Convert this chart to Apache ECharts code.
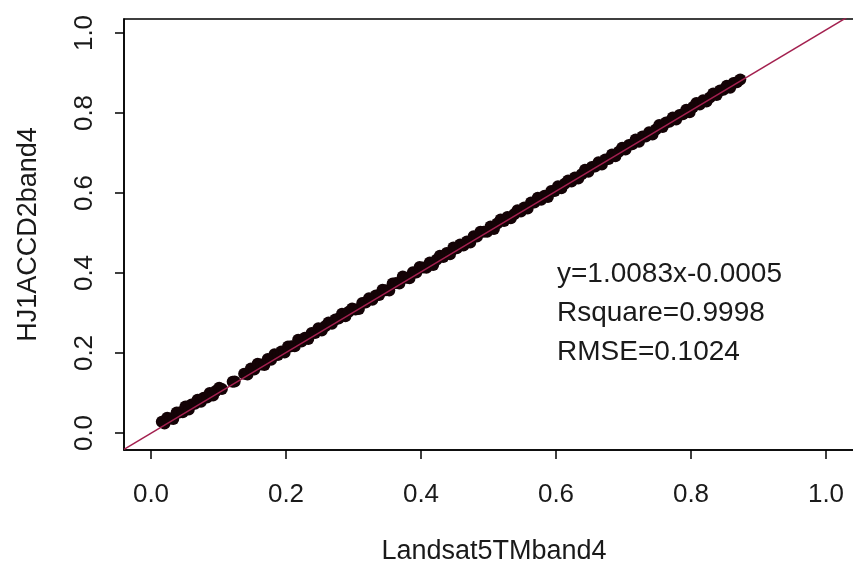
<!DOCTYPE html>
<html>
<head>
<meta charset="utf-8">
<script src="https://cdn.jsdelivr.net/npm/echarts@6/dist/echarts.min.js"></script>
<style>
  html, body { margin: 0; padding: 0; background: #fff; }
  #charts { width: 853px; height: 565px; }
</style>
</head>
<body>
<div id="charts"></div>
<script>
// Landsat5 TM band4 (x) vs HJ1A CCD2 band4 (y)
var landsatX = [
    0.016, 0.020, 0.024, 0.029, 0.033, 0.038, 0.042, 0.047, 0.051, 0.056,
    0.060, 0.065, 0.069, 0.074, 0.078, 0.083, 0.087, 0.092, 0.096, 0.101, 0.105,
    0.121, 0.124,
    0.138, 0.143, 0.148, 0.153, 0.158, 0.163, 0.168, 0.173, 0.178, 0.183,
    0.188, 0.193, 0.198, 0.203, 0.208, 0.213, 0.218, 0.223, 0.228, 0.233,
    0.238, 0.243, 0.248, 0.253, 0.258, 0.263, 0.268, 0.273, 0.278, 0.283,
    0.288, 0.293, 0.298, 0.303, 0.308, 0.313, 0.318, 0.323, 0.328, 0.333,
    0.338, 0.343, 0.348, 0.353, 0.358, 0.363, 0.368, 0.373, 0.378, 0.383,
    0.388, 0.393, 0.398, 0.403, 0.408, 0.413, 0.418, 0.423, 0.428, 0.433,
    0.438, 0.443, 0.448, 0.453, 0.458, 0.463, 0.468, 0.473, 0.478, 0.483,
    0.488, 0.493, 0.498, 0.503, 0.508, 0.513, 0.518, 0.523, 0.528, 0.533,
    0.538, 0.543, 0.548, 0.553, 0.558, 0.563, 0.568, 0.573, 0.578, 0.583,
    0.588, 0.593, 0.598, 0.603, 0.608, 0.613, 0.618, 0.623, 0.628, 0.633,
    0.638, 0.643, 0.648, 0.653, 0.658, 0.663, 0.668, 0.673, 0.678, 0.683,
    0.688, 0.693, 0.698, 0.703, 0.708, 0.713, 0.718, 0.723, 0.728, 0.733,
    0.738, 0.743, 0.748, 0.753, 0.758, 0.763, 0.768, 0.773, 0.778, 0.783,
    0.788, 0.793, 0.798, 0.803, 0.808, 0.813, 0.818, 0.823, 0.828, 0.833,
    0.838, 0.843, 0.848, 0.853, 0.858, 0.863, 0.868, 0.873
];
var hjY = [
    0.028, 0.024, 0.038, 0.036, 0.035, 0.051, 0.051, 0.052, 0.066, 0.059,
    0.071, 0.073, 0.083, 0.078, 0.088, 0.089, 0.100, 0.094, 0.105, 0.113, 0.110,
    0.128, 0.129,
    0.148, 0.146, 0.161, 0.159, 0.173, 0.171, 0.170, 0.185, 0.183, 0.197,
    0.195, 0.204, 0.201, 0.216, 0.217, 0.217, 0.233, 0.229, 0.238, 0.235,
    0.250, 0.250, 0.262, 0.256, 0.267, 0.276, 0.273, 0.284, 0.286, 0.298,
    0.292, 0.303, 0.311, 0.309, 0.310, 0.325, 0.326, 0.337, 0.333, 0.344,
    0.345, 0.358, 0.357, 0.356, 0.374, 0.375, 0.374, 0.391, 0.388, 0.387,
    0.402, 0.401, 0.415, 0.414, 0.413, 0.426, 0.420, 0.433, 0.443, 0.440,
    0.450, 0.447, 0.464, 0.462, 0.471, 0.469, 0.479, 0.476, 0.492, 0.491,
    0.503, 0.503, 0.503, 0.516, 0.510, 0.524, 0.534, 0.530, 0.540, 0.537,
    0.547, 0.557, 0.554, 0.564, 0.561, 0.576, 0.576, 0.588, 0.583, 0.593,
    0.590, 0.605, 0.605, 0.617, 0.612, 0.623, 0.631, 0.629, 0.639, 0.636,
    0.647, 0.658, 0.653, 0.665, 0.666, 0.677, 0.671, 0.684, 0.685, 0.696,
    0.692, 0.703, 0.713, 0.709, 0.720, 0.722, 0.734, 0.728, 0.741, 0.741,
    0.752, 0.746, 0.759, 0.770, 0.765, 0.776, 0.778, 0.789, 0.784, 0.795,
    0.797, 0.808, 0.802, 0.815, 0.825, 0.821, 0.832, 0.829, 0.839, 0.849,
    0.845, 0.856, 0.858, 0.868, 0.863, 0.875, 0.877, 0.884
];
// fitted line y = slope*x + intercept
var fitCoef = [1.0083, -0.0005];
var tickValues = [0, 0.2, 0.4, 0.6, 0.8, 1.0];
var statLines = ['y=1.0083x-0.0005', 'Rsquare=0.9998', 'RMSE=0.1024'];

// plot box runs a bit past the right edge of the picture
var xMin = -0.04, xMax = 1.0563;
var yMin = -0.0425, yMax = 1.035;
var font = 'Liberation Sans, Arial, sans-serif';

var pts = [];
for (var i = 0; i < landsatX.length; i++) {
    pts.push([landsatX[i], hjY[i]]);
}
var fitLine = [
    [xMin, fitCoef[0] * xMin + fitCoef[1]],
    [xMax, fitCoef[0] * xMax + fitCoef[1]]
];

var myChart = echarts.init(document.getElementById('charts'), null, {renderer: 'canvas'});
myChart.setOption({
    backgroundColor: '#fff',
    animation: false,
    grid: {
        left: 124, top: 19, width: 740, bottom: 115,
        outerBoundsMode: 'none',
        containLabel: false,
        show: true, borderColor: '#000', borderWidth: 1.5
    },
    xAxis: {
        type: 'value', min: xMin, max: xMax,
        name: 'Landsat5TMband4', nameLocation: 'middle', nameGap: 88,
        nameTextStyle: {fontFamily: font, fontSize: 27, color: '#1a1a1a'},
        axisLine: {show: true, onZero: false, lineStyle: {color: '#000', width: 1.5}},
        axisTick: {show: true, length: 9, customValues: tickValues, lineStyle: {color: '#000', width: 1.5}},
        axisLabel: {
            customValues: tickValues, margin: 32,
            fontFamily: font, fontSize: 26, color: '#1a1a1a',
            formatter: function (v) { return v.toFixed(1); }
        },
        splitLine: {show: false}
    },
    yAxis: {
        type: 'value', min: yMin, max: yMax,
        name: 'HJ1ACCD2band4', nameLocation: 'middle', nameGap: 82,
        nameTextStyle: {fontFamily: font, fontSize: 27, color: '#1a1a1a'},
        axisLine: {show: true, onZero: false, lineStyle: {color: '#000', width: 1.5}},
        axisTick: {show: true, length: 9, customValues: tickValues, lineStyle: {color: '#000', width: 1.5}},
        axisLabel: {
            customValues: tickValues, margin: 26, rotate: 90,
            fontFamily: font, fontSize: 26, color: '#1a1a1a',
            formatter: function (v) { return v.toFixed(1); }
        },
        splitLine: {show: false}
    },
    graphic: [{
        type: 'text', left: 557, top: 255,
        style: {
            text: statLines.join('\n'),
            font: '28px ' + font,
            fill: '#1a1a1a',
            lineHeight: 39
        }
    }],
    series: [
        {
            type: 'scatter',
            data: pts,
            symbol: 'circle',
            symbolSize: 12,
            itemStyle: {color: '#140306', opacity: 1},
            z: 2
        },
        {
            type: 'line',
            data: fitLine,
            showSymbol: false,
            clip: true,
            lineStyle: {color: '#a3204f', width: 1.5},
            z: 3
        }
    ]
});
</script>
</body>
</html>
